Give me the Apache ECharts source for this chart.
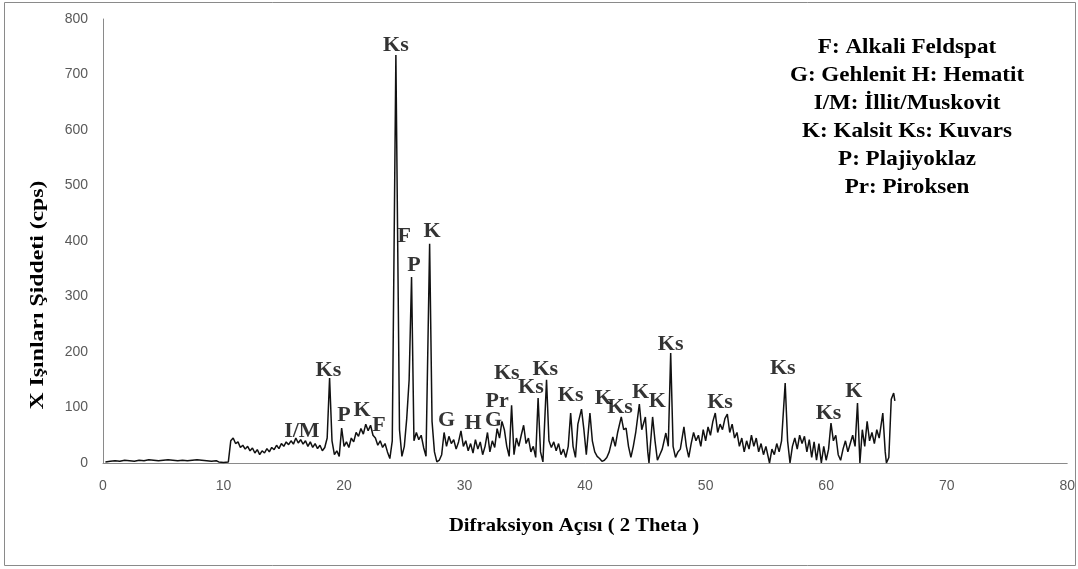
<!DOCTYPE html>
<html>
<head>
<meta charset="utf-8">
<script src="https://cdn.jsdelivr.net/npm/echarts@6/dist/echarts.min.js"></script>
<style>
html,body{margin:0;padding:0;background:#fff;}
#chart{width:1078px;height:569px;}
</style>
</head>
<body>
<div id="chart"></div>
<script>
// 2-theta positions (degrees)
const theta = [
  0.2,0.6,1.0,1.4,1.8,2.2,2.6,3.0,3.4,3.8,4.2,4.6,5.0,5.4,5.8,6.2,6.6,7.0,7.4,7.8,8.2,8.6,9.0,9.4,
  9.6,10.0,10.4,10.6,10.8,11.0,11.2,11.4,11.6,11.8,12.0,12.2,12.4,12.6,12.8,13.0,13.2,13.4,13.6,13.8,
  14.0,14.2,14.4,14.6,14.8,15.0,15.2,15.4,15.6,15.8,16.0,16.2,16.4,16.6,16.8,17.0,17.2,17.4,17.6,17.8,
  18.0,18.2,18.4,18.6,18.8,19.0,19.2,19.4,19.6,19.8,20.0,20.2,20.4,20.6,20.8,21.0,21.2,21.4,21.6,21.8,
  22.0,22.2,22.4,22.6,22.8,23.0,23.2,23.4,23.6,23.8,24.0,24.3,24.6,24.8,25.0,25.2,25.4,25.6,25.8,26.0,
  26.2,26.4,26.6,26.8,27.1,27.3,27.5,27.7,27.9,28.1,28.3,28.5,28.7,28.9,29.1,29.3,29.5,29.7,29.9,30.1,
  30.3,30.5,30.7,30.9,31.1,31.3,31.5,31.7,31.9,32.1,32.3,32.5,32.7,32.9,33.1,33.3,33.5,33.7,33.9,34.1,
  34.3,34.5,34.7,34.9,35.1,35.3,35.5,35.7,35.9,36.1,36.3,36.5,36.8,37.0,37.2,37.4,37.6,37.8,38.0,38.2,
  38.4,38.6,38.8,39.0,39.2,39.4,39.7,39.9,40.1,40.4,40.6,40.8,41.0,41.2,41.4,41.6,41.8,42.0,42.3,42.5,
  42.7,43.0,43.2,43.4,43.6,43.8,44.0,44.2,44.5,44.7,45.0,45.2,45.3,45.6,45.8,46.0,46.2,46.4,46.7,46.9,
  47.1,47.3,47.5,47.7,47.9,48.2,48.4,48.6,48.8,49.0,49.2,49.4,49.6,49.8,50.0,50.2,50.4,50.6,50.8,51.0,
  51.2,51.4,51.6,51.8,52.0,52.2,52.4,52.6,52.8,53.0,53.2,53.4,53.6,53.8,54.0,54.2,54.4,54.6,54.8,55.0,
  55.3,55.5,55.7,55.9,56.1,56.3,56.6,56.8,57.0,57.2,57.4,57.6,57.8,58.0,58.2,58.4,58.6,58.8,59.0,59.2,
  59.4,59.6,59.8,60.0,60.2,60.4,60.6,60.8,61.0,61.2,61.4,61.6,61.8,62.0,62.2,62.4,62.6,62.8,63.0,63.2,
  63.4,63.6,63.8,64.0,64.2,64.4,64.7,64.9,65.0,65.2,65.4,65.6,65.7
];
// intensity (cps)
const cps = [
  2,3,4,3,5,4,3,5,4,6,5,4,5,6,5,4,5,4,5,6,5,4,3,4,
  2,1,2,40,45,35,38,28,32,25,30,22,27,18,24,15,22,18,26,20,
  28,24,32,26,35,30,38,33,40,34,45,36,42,34,40,30,38,28,35,26,
  32,22,28,45,153,40,15,22,12,63,30,38,28,45,38,55,48,62,52,70,
  58,68,50,45,32,40,28,35,20,8,40,735,60,12,30,80,150,335,40,55,
  42,50,28,12,395,75,20,2,5,15,55,30,48,35,42,25,38,58,30,40,
  22,35,18,42,25,38,15,30,55,20,40,28,62,45,75,60,30,12,104,15,
  45,30,50,68,35,45,20,30,10,117,20,2,150,40,28,38,22,35,15,25,
  10,30,90,30,10,70,97,60,15,90,40,20,12,8,3,5,10,20,47,30,
  55,83,60,63,30,10,30,55,106,60,83,20,0,83,40,5,15,25,54,30,
  198,30,10,20,25,65,30,10,35,55,40,50,30,60,40,65,50,75,90,55,
  70,60,80,88,55,70,45,55,30,45,20,40,25,50,30,45,20,35,15,30,
  0,25,15,35,20,40,144,40,0,30,45,25,50,35,48,20,42,10,38,5,
  35,0,30,5,25,72,40,50,15,5,25,40,20,35,50,30,108,0,60,30,
  75,40,55,35,60,45,90,20,0,10,115,126,112
];
// peak annotations
const peakNames = ['I/M','Ks','P','K','F','Ks','F','P','K','G','H','G','Pr','Ks','Ks','Ks','Ks','K','Ks','K','K','Ks','Ks','Ks','Ks','K'];
const peakTheta = [16.5,18.7,20.0,21.5,22.9,24.3,25.0,25.8,27.3,28.5,30.7,32.4,32.7,33.5,35.5,36.7,38.8,41.5,42.9,44.6,46.0,47.1,51.2,56.4,60.2,62.3];
const peakCps   = [57,167,86,95,68,753,408,356,417,77,72,77,111,162,137,169,122,117,100,128,111,214,110,171,90,129];
// legend text
const legendLines = ['F: Alkali Feldspat','G: Gehlenit H: Hematit','I/M: İllit/Muskovit','K: Kalsit Ks: Kuvars','P: Plajiyoklaz','Pr: Piroksen'];
const xTitle = 'Difraksiyon Açısı ( 2 Theta )';
const yTitle = 'X Işınları Şiddeti (cps)';

const lineData = theta.map((t, i) => [t, cps[i]]);
const labelData = peakNames.map((n, i) => ({ name: n, value: [peakTheta[i], peakCps[i]] }));

const serif = '"Liberation Serif","DejaVu Serif",serif';
const chart = echarts.init(document.getElementById('chart'), null, { renderer: 'canvas' });
chart.setOption({
  animation: false,
  backgroundColor: '#fff',
  grid: { left: 103, right: 5, top: 19, bottom: 106, containLabel: false },
  xAxis: {
    type: 'value', min: 0, max: 80, interval: 10,
    axisLine: { lineStyle: { color: '#8a8a8a', width: 1 } },
    axisTick: { show: false },
    splitLine: { show: false },
    axisLabel: { color: '#595959', fontSize: 14, fontFamily: '"Liberation Sans",Arial,sans-serif', margin: 16 }
  },
  yAxis: {
    type: 'value', min: 0, max: 800, interval: 100,
    axisLine: { show: true, lineStyle: { color: '#8a8a8a', width: 1 } },
    axisTick: { show: false },
    splitLine: { show: false },
    axisLabel: { color: '#595959', fontSize: 14, fontFamily: '"Liberation Sans",Arial,sans-serif', margin: 15 }
  },
  series: [
    {
      type: 'line', data: lineData, showSymbol: false, symbol: 'none',
      lineStyle: { color: '#111', width: 1.5 }, z: 2
    },
    {
      type: 'scatter', data: labelData, symbolSize: 1,
      itemStyle: { color: 'rgba(0,0,0,0)' },
      label: {
        show: true, position: 'inside', formatter: '{b}',
        color: '#000', fontFamily: serif, fontWeight: 'bold', fontSize: 22
      },
      z: 3
    }
  ],
  graphic: [
    { type: 'rect', shape: { x: 4.5, y: 2.5, width: 1071, height: 563 }, style: { fill: 'none', stroke: '#8a8a8a', lineWidth: 1 }, silent: true },
    {
      type: 'text', x: 907, y: 34, scaleX: 1.1,
      style: { text: legendLines.join('\n'), fill: '#000', font: 'bold 21px ' + serif, textAlign: 'center', textVerticalAlign: 'top', lineHeight: 28 }
    },
    {
      type: 'text', x: 574, y: 526, scaleX: 1.09,
      style: { text: xTitle, fill: '#000', font: 'bold 19px ' + serif, textAlign: 'center', textVerticalAlign: 'middle' }
    },
    {
      type: 'text', x: 38, y: 295, rotation: Math.PI / 2, scaleX: 1.25,
      style: { text: yTitle, fill: '#000', font: 'bold 19px ' + serif, textAlign: 'center', textVerticalAlign: 'middle' }
    }
  ]
});
</script>
</body>
</html>
